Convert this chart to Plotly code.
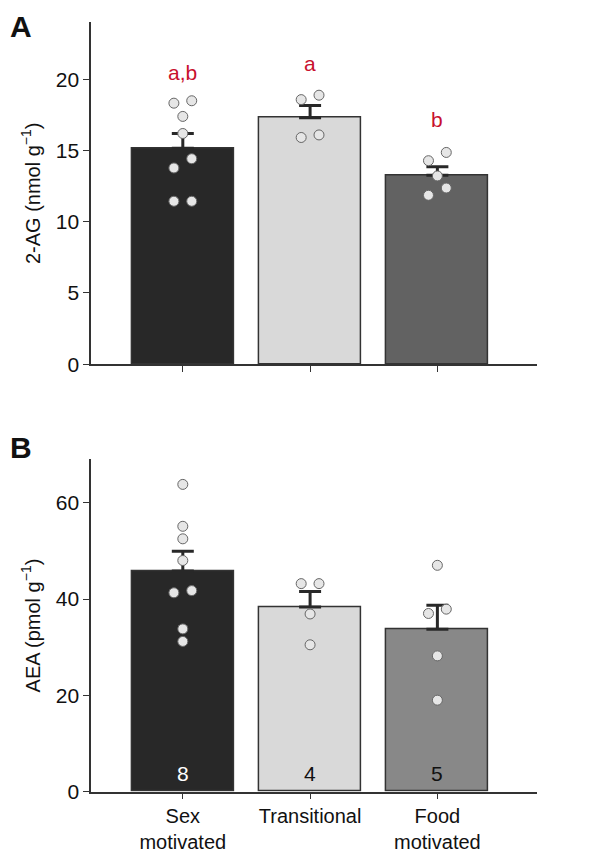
import plotly.graph_objects as go

groups = ["Sex<br>motivated", "Transitional", "Food<br>motivated"]
n_animals = [8, 4, 5]

ag_mean = [15.17, 17.31, 13.27]
ag_sem = [1.03, 0.86, 0.60]
ag_points = [
    [18.33, 18.5, 17.4, 16.2, 13.78, 14.43, 11.44, 11.44],
    [18.58, 18.89, 15.92, 16.1],
    [14.29, 14.87, 13.22, 12.37, 11.86],
]
ag_jitter = [
    [-1, 1, 0, 0, -1, 1, -1, 1],
    [-1, 1, -1, 1],
    [-1, 1, 0, 1, -1],
]
ag_letters = ["a,b", "a", "b"]
ag_letter_y = [20.5, 21.1, 17.15]

aea_mean = [45.8, 38.36, 33.74]
aea_sem = [4.1, 3.2, 4.96]
aea_points = [
    [63.8, 55.1, 52.5, 48.0, 41.3, 41.75, 33.8, 31.2],
    [43.2, 43.2, 36.9, 30.5],
    [47.0, 37.0, 37.9, 28.2, 19.0],
]
aea_jitter = [
    [0, 0, 0, 0, -1, 1, 0, 0],
    [-1, 1, 0, 0],
    [0, -1, 1, 0, 0],
]

colors_a = ["#282828", "#d9d9d9", "#626262"]
colors_b = ["#282828", "#d9d9d9", "#888888"]
font = "Liberation Sans, Arial, sans-serif"
step = 0.07

fig = go.Figure()


def add_panel(means, sems, points, jitter, colors, xa, ya):
    fig.add_trace(go.Bar(
        x=[0, 1, 2], y=means, width=0.8, marker=dict(color=colors, line=dict(color="#333", width=1.5)),
        error_y=dict(type="data", array=sems, arrayminus=[0, 0, 0], symmetric=False,
                     color="#282828", thickness=3, width=11),
        xaxis=xa, yaxis=ya, showlegend=False))
    xs, ys = [], []
    for i, pts in enumerate(points):
        for p, j in zip(pts, jitter[i]):
            xs.append(i + j * step)
            ys.append(p)
    fig.add_trace(go.Scatter(
        x=xs, y=ys, mode="markers", xaxis=xa, yaxis=ya, showlegend=False,
        marker=dict(size=10, color="#e6e6e6", line=dict(color="#666", width=1))))


add_panel(ag_mean, ag_sem, ag_points, ag_jitter, colors_a, "x", "y")
add_panel(aea_mean, aea_sem, aea_points, aea_jitter, colors_b, "x2", "y2")

for i, t in enumerate(ag_letters):
    fig.add_annotation(x=i, y=ag_letter_y[i], xref="x", yref="y", text=t, showarrow=False,
                       font=dict(color="#c8102e", size=21, family=font))
for i, n in enumerate(n_animals):
    fig.add_annotation(x=i, y=3.8, xref="x2", yref="y2", text=str(n), showarrow=False,
                       font=dict(color="white" if i == 0 else "#111", size=21, family=font))

fig.add_annotation(x=0.0, y=1.0, xref="paper", yref="paper", text="<b>A</b>", showarrow=False,
                   xanchor="left", yanchor="top", font=dict(size=30, family=font, color="#111"))
fig.add_annotation(x=0.0, y=0.505, xref="paper", yref="paper", text="<b>B</b>", showarrow=False,
                   xanchor="left", yanchor="top", font=dict(size=30, family=font, color="#111"))

xcommon = dict(range=[-0.72, 2.78], showline=True, linecolor="#333", linewidth=1.5,
               ticks="outside", ticklen=6, tickcolor="#333", tickvals=[0, 1, 2],
               showgrid=False, zeroline=False, domain=[0.14, 0.89])
ycommon = dict(showline=True, linecolor="#333", linewidth=1.5, ticks="outside", ticklen=6,
               tickcolor="#333", showgrid=False, zeroline=False,
               tickfont=dict(size=21, family=font, color="#111"),
               title_font=dict(size=20, family=font, color="#111"), title_standoff=10)

fig.update_layout(
    width=594, height=861, margin=dict(l=0, r=0, t=0, b=0),
    paper_bgcolor="white", plot_bgcolor="white", bargap=0,
    xaxis=dict(xcommon, anchor="y", showticklabels=False),
    yaxis=dict(ycommon, range=[0, 24], tickvals=[0, 5, 10, 15, 20], domain=[0.581, 0.983],
               title_text="2-AG (nmol g<sup>−1</sup>)"),
    xaxis2=dict(xcommon, anchor="y2", ticktext=groups,
                tickfont=dict(size=20, family=font, color="#111")),
    yaxis2=dict(ycommon, range=[0, 69], tickvals=[0, 20, 40, 60], domain=[0.078, 0.469],
                title_text="AEA (pmol g<sup>−1</sup>)"),
)

fig.write_html("out.html")
